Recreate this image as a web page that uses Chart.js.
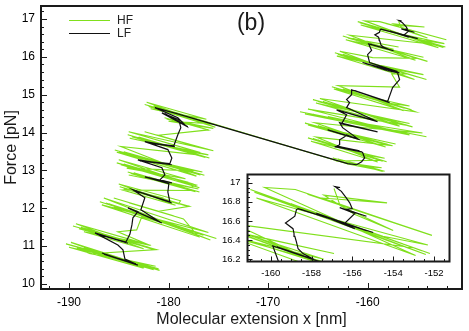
<!DOCTYPE html>
<html>
<head>
<meta charset="utf-8">
<script src="https://cdn.jsdelivr.net/npm/chart.js@4.4.1/dist/chart.umd.min.js"></script>
<style>
  html, body { margin: 0; padding: 0; background: #fff; }
  #wrap { position: relative; width: 469px; height: 331px; }
  #main { position: absolute; left: 0; top: 0; }
  #inset { position: absolute; left: 200px; top: 170px; }
</style>
</head>
<body>
<div id="wrap">
  <canvas id="main" width="469" height="331"></canvas>
  <canvas id="inset" width="255" height="115"></canvas>
</div>
<script>
// valeurs (extension en nm, force en pN)
const xTicks = [-190, -180, -170, -160];
const yTicks = [10, 11, 12, 13, 14, 15, 16, 17];
const insetXTicks = [-160, -158, -156, -154, -152];
const insetYTicks = [16.2, 16.4, 16.6, 16.8, 17];

const hfLower = [
  [-186.5, 10.78], [-181.0, 10.40], [-190.3, 11.06], [-182.0, 10.44], [-188.5, 10.96], [-180.9, 10.36],
  [-187.0, 10.84], [-183.0, 10.52], [-189.2, 10.95], [-181.5, 10.38], [-185.0, 10.70],
  [-189.8, 11.10], [-182.5, 10.42], [-190.0, 10.97], [-181.3, 10.47], [-187.8, 10.80],
  [-181.2, 10.91], [-189.6, 11.53], [-182.0, 10.97], [-188.8, 11.50], [-181.6, 10.92], [-187.5, 11.40],
  [-183.0, 11.03], [-189.0, 11.46], [-184.5, 11.17],
  [-181.8, 11.02], [-189.3, 11.59], [-182.5, 10.93], [-188.5, 11.38], [-182.2, 11.06],
  [-185.1, 11.38], [-183.2, 11.43], [-182.7, 11.77],
  [-178.0, 11.43], [-186.9, 12.17], [-175.2, 11.20], [-186.0, 12.12], [-177.5, 11.37], [-185.5, 12.03],
  [-180.0, 11.60], [-186.3, 12.14], [-176.5, 11.29], [-184.0, 11.95],
  [-175.8, 11.16], [-186.5, 12.27], [-176.0, 11.36], [-186.7, 12.09], [-177.0, 11.25],
  [-178.5, 11.72], [-185.5, 12.27], [-179.5, 11.80], [-184.0, 12.15], [-181.0, 11.92],
  [-177.9, 12.05], [-184.9, 12.57], [-178.5, 12.09], [-184.0, 12.53], [-178.2, 12.06], [-183.0, 12.43],
  [-180.5, 12.27], [-184.5, 12.52], [-179.0, 12.12],
  [-178.8, 12.20], [-185.0, 12.64], [-179.3, 12.08], [-184.6, 12.48],
  [-177.5, 12.47], [-184.1, 12.96], [-176.9, 12.43], [-183.5, 12.94], [-178.0, 12.49], [-182.0, 12.83],
  [-177.3, 12.44], [-183.8, 12.92],
  [-177.0, 12.51], [-184.0, 12.88], [-177.8, 12.55],
  [-177.2, 12.61], [-185.2, 13.20], [-177.5, 12.64], [-184.5, 13.17], [-179.0, 12.74], [-183.5, 13.06],
  [-178.0, 12.69], [-184.8, 13.15],
  [-176.9, 12.54], [-185.0, 13.28], [-178.3, 12.78], [-184.2, 13.06],
  [-178.0, 12.99], [-185.4, 13.54], [-176.4, 12.87], [-184.5, 13.49], [-177.5, 12.97], [-183.0, 13.36],
  [-176.8, 12.88], [-185.0, 13.49], [-179.5, 13.10],
  [-176.6, 12.96], [-185.2, 13.48], [-177.2, 12.85], [-184.8, 13.63],
  [-177.0, 13.41], [-184.1, 13.94], [-175.9, 13.33], [-183.0, 13.88], [-177.5, 13.45], [-182.0, 13.78],
  [-176.3, 13.34], [-183.7, 13.89], [-178.5, 13.52],
  [-176.0, 13.41], [-183.9, 13.85], [-176.8, 13.47], [-184.0, 14.02],
  [-175.5, 13.52], [-182.4, 14.02], [-176.5, 13.58], [-181.0, 13.93],
  [-176.0, 14.07], [-180.4, 14.39], [-175.9, 14.06], [-179.8, 14.37], [-176.8, 14.15], [-180.2, 14.36],
  [-175.5, 14.11], [-180.0, 14.30],
  [-175.5, 14.23], [-182.4, 14.74], [-175.1, 14.20], [-181.5, 14.70], [-176.0, 14.27], [-180.5, 14.62],
  [-175.8, 14.23], [-182.0, 14.69], [-175.3, 14.14], [-182.2, 14.80], [-176.2, 14.35], [-181.8, 14.63],
  [-177.8, 14.40], [-179.2, 14.52]
];

const hfUpper = [
  [-162.0, 13.17],
  [-158.3, 12.98], [-163.5, 13.33], [-158.8, 13.02], [-162.5, 13.26], [-158.5, 12.97], [-163.0, 13.30], [-160.0, 13.10],
  [-158.6, 13.07], [-163.2, 13.25],
  [-158.6, 13.27], [-166.0, 13.86], [-158.1, 13.23], [-165.0, 13.80], [-159.5, 13.34], [-164.0, 13.70],
  [-158.5, 13.24], [-165.5, 13.84], [-160.5, 13.42],
  [-158.3, 13.32], [-165.7, 13.77], [-159.0, 13.22], [-165.2, 13.88],
  [-157.5, 13.65], [-166.3, 14.25], [-158.0, 13.69], [-165.0, 14.18], [-158.5, 13.72], [-164.0, 14.09],
  [-157.8, 13.66], [-165.8, 14.20],
  [-157.2, 13.70], [-166.0, 14.20], [-158.2, 13.62], [-165.3, 14.26],
  [-157.0, 14.04], [-166.8, 14.55], [-154.1, 13.89], [-165.5, 14.48], [-156.5, 14.01], [-164.0, 14.42], [-158.0, 14.07],
  [-154.5, 13.99], [-166.3, 14.49], [-155.8, 13.94], [-166.0, 14.62],
  [-156.0, 14.19], [-165.5, 14.87], [-155.5, 14.15], [-164.5, 14.82], [-157.5, 14.29], [-163.0, 14.69],
  [-156.3, 14.20], [-165.0, 14.82], [-158.5, 14.37],
  [-155.8, 14.24], [-165.2, 14.78], [-156.8, 14.17], [-164.8, 14.90],
  [-155.2, 14.55],
  [-156.0, 14.63], [-163.6, 15.21], [-155.6, 14.60], [-162.5, 15.15], [-157.0, 14.71], [-161.5, 15.05],
  [-156.3, 14.64], [-163.2, 15.16], [-158.0, 14.78],
  [-155.8, 14.70], [-163.4, 15.15], [-156.4, 14.58], [-163.0, 15.24],
  [-156.8, 15.20], [-157.6, 15.55],
  [-156.0, 15.55], [-163.3, 16.11], [-154.1, 15.40], [-162.5, 16.07], [-155.0, 15.47], [-161.5, 15.97],
  [-156.5, 15.59], [-160.5, 15.89], [-154.6, 15.44], [-163.0, 16.06], [-158.0, 15.70],
  [-154.4, 15.53], [-163.1, 16.02], [-155.3, 15.40], [-162.8, 16.15],
  [-159.5, 15.98],
  [-155.0, 15.96], [-162.5, 16.55], [-154.0, 15.88], [-161.5, 16.49], [-155.5, 16.00], [-160.5, 16.39],
  [-157.0, 16.12], [-161.2, 16.40], [-157.4, 16.20], [-161.2, 16.46], [-156.9, 16.26], [-162.0, 16.50], [-158.5, 16.24],
  [-154.4, 15.99], [-162.2, 16.45], [-155.2, 15.91], [-161.8, 16.57],
  [-153.0, 16.32], [-161.0, 16.93], [-152.2, 16.26], [-160.5, 16.89], [-152.6, 16.29], [-160.0, 16.85],
  [-153.5, 16.36], [-159.0, 16.78], [-152.4, 16.25], [-160.8, 16.90], [-154.5, 16.44],
  [-152.3, 16.35], [-160.7, 16.84], [-152.9, 16.24], [-160.3, 16.95],
  [-158.8, 16.93], [-152.1, 16.45], [-158.2, 16.88], [-153.5, 16.55], [-157.5, 16.84], [-154.3, 16.79],
  [-157.4, 16.87], [-155.9, 16.67], [-154.0, 16.50], [-156.6, 16.76], [-156.9, 16.94]
];

const lfLower = [
  [-186.69, 10.82], [-183.08, 10.50], [-186.49, 10.79], [-183.28, 10.53], [-184.38, 10.66], [-184.58, 10.90],
  [-185.09, 11.03], [-187.39, 11.35], [-184.08, 11.08], [-187.19, 11.32], [-184.28, 11.11], [-183.88, 11.32],
  [-183.68, 11.56], [-183.58, 11.75], [-183.08, 11.91], [-184.08, 12.01], [-180.67, 11.61], [-183.88, 11.98],
  [-180.87, 11.64], [-182.78, 11.96], [-182.38, 12.28], [-183.58, 12.49], [-179.67, 12.14], [-183.28, 12.46],
  [-179.87, 12.17], [-180.07, 12.43], [-179.97, 12.65], [-182.38, 12.83], [-179.67, 12.67], [-180.87, 12.75],
  [-180.37, 12.88], [-180.67, 13.07], [-183.08, 13.28], [-179.67, 13.15], [-182.88, 13.25], [-179.87, 13.18],
  [-179.67, 13.33], [-180.07, 13.55], [-182.38, 13.76], [-179.37, 13.63], [-182.08, 13.73], [-179.47, 13.65],
  [-179.07, 13.94], [-178.77, 14.13], [-178.97, 14.34], [-180.67, 14.52], [-178.06, 14.15], [-180.37, 14.50],
  [-178.27, 14.18], [-179.07, 14.39], [-181.37, 14.66], [-179.17, 14.50]
];

const lfUpper = [
  [-162.02, 13.18], [-161.11, 13.15], [-160.61, 13.23], [-160.31, 13.33], [-160.51, 13.47], [-160.61, 13.49],
  [-163.32, 13.63], [-160.81, 13.52], [-163.10, 13.64], [-162.82, 13.68], [-162.82, 13.81], [-162.32, 13.89],
  [-162.12, 13.94], [-160.81, 13.81], [-164.02, 14.07], [-161.01, 13.84], [-162.52, 14.13], [-162.82, 14.26],
  [-159.01, 14.02], [-162.62, 14.23], [-162.12, 14.47], [-163.12, 14.60], [-159.01, 14.29], [-162.82, 14.58],
  [-159.21, 14.31], [-162.12, 14.66], [-161.82, 14.79], [-162.12, 14.87], [-161.62, 15.00], [-161.62, 15.13],
  [-157.80, 14.79], [-161.31, 15.11], [-158.00, 14.82], [-157.50, 15.19], [-156.80, 15.40], [-157.00, 15.58],
  [-158.10, 15.64], [-160.51, 15.85], [-156.80, 15.58], [-160.21, 15.82], [-157.00, 15.61], [-159.81, 15.85],
  [-160.01, 16.06], [-159.61, 16.17], [-159.90, 16.34], [-157.40, 16.16], [-159.70, 16.33], [-157.90, 16.20],
  [-158.42, 16.26], [-158.66, 16.31], [-158.74, 16.38], [-158.82, 16.44], [-158.86, 16.47], [-158.91, 16.52],
  [-159.28, 16.58], [-158.82, 16.65], [-158.74, 16.72], [-158.66, 16.73], [-154.98, 16.48], [-158.50, 16.72],
  [-155.30, 16.50], [-157.76, 16.68], [-155.88, 16.52], [-156.40, 16.57], [-155.88, 16.68], [-156.62, 16.74],
  [-155.31, 16.65], [-156.30, 16.72], [-156.01, 16.73], [-156.13, 16.79], [-156.29, 16.84], [-156.54, 16.91],
  [-156.86, 16.96], [-156.60, 16.95]
];

const hfColor = '#80e01c';
const lfColor = '#111111';
const fontFamily = '"Liberation Sans", Arial, sans-serif';

const toPoints = pts => pts.map(([x, y]) => ({ x, y }));
const hfData = toPoints(hfLower.concat(hfUpper));
const lfData = toPoints(lfLower.concat(lfUpper));

function makeDatasets() {
  return [
    { label: 'HF', data: hfData, borderColor: hfColor, borderWidth: 1.1, showLine: true, pointRadius: 0, order: 2 },
    { label: 'LF', data: lfData, borderColor: lfColor, borderWidth: 1.2, showLine: true, pointRadius: 0, order: 1 }
  ];
}

// ticks vers l'intérieur + cadre complet
const inwardTicks = {
  id: 'inwardTicks',
  beforeDraw(chart, args, o) {
    if (!o.fill) return;
    const a = chart.chartArea;
    chart.ctx.save();
    chart.ctx.fillStyle = '#fff';
    chart.ctx.fillRect(a.left, a.top, a.width, a.height);
    chart.ctx.restore();
  },
  afterDraw(chart, args, o) {
    const { ctx, chartArea: a, scales: { x, y } } = chart;
    const isMajor = (v, m) => Math.abs(v / m - Math.round(v / m)) < 1e-6;
    ctx.save();
    ctx.strokeStyle = '#1a1a1a';
    ctx.lineWidth = 1;
    ctx.beginPath();
    for (let i = Math.ceil(x.min / o.xStep - 1e-6); i <= Math.floor(x.max / o.xStep + 1e-6); i++) {
      const v = i * o.xStep;
      const px = Math.round(x.getPixelForValue(v)) + 0.5;
      ctx.moveTo(px, a.bottom);
      ctx.lineTo(px, a.bottom - (isMajor(v, o.xMajor) ? o.major : o.minor));
    }
    for (let i = Math.ceil(y.min / o.yStep - 1e-6); i <= Math.floor(y.max / o.yStep + 1e-6); i++) {
      const v = i * o.yStep;
      const py = Math.round(y.getPixelForValue(v)) + 0.5;
      ctx.moveTo(a.left, py);
      ctx.lineTo(a.left + (isMajor(v, o.yMajor) ? o.major : o.minor), py);
    }
    ctx.stroke();
    ctx.lineWidth = o.frame;
    ctx.strokeRect(a.left, a.top, a.right - a.left, a.bottom - a.top);
    ctx.restore();
  }
};

function linearAxis(min, max, ticks, size, pad, fit) {
  return {
    type: 'linear',
    min: min,
    max: max,
    grid: { display: false, drawTicks: false },
    border: { display: false },
    ticks: {
      color: '#000', padding: pad, autoSkip: false, maxRotation: 0,
      font: { family: fontFamily, size: size },
      callback: v => String(Math.round(v * 100) / 100)
    },
    afterBuildTicks: s => { s.ticks = ticks.map(v => ({ value: v })); },
    afterFit: s => {
      if (s.isHorizontal()) s.height = fit; else s.width = fit;
      s.paddingTop = 0; s.paddingBottom = 0; s.paddingLeft = 0; s.paddingRight = 0;
    }
  };
}

const decor = {
  id: 'decor',
  afterDraw(chart) {
    const ctx = chart.ctx;
    const a = chart.chartArea;
    ctx.save();
    ctx.fillStyle = '#1a1a1a';
    ctx.textAlign = 'center';
    ctx.textBaseline = 'middle';
    ctx.font = '16px ' + fontFamily;
    ctx.fillText('Molecular extension x [nm]', (a.left + a.right) / 2, 320);
    ctx.save();
    ctx.translate(11.5, (a.top + a.bottom) / 2);
    ctx.rotate(-Math.PI / 2);
    ctx.fillText('Force [pN]', 0, 0);
    ctx.restore();
    ctx.font = '23px ' + fontFamily;
    ctx.fillText('(b)', 251, 24);
    // légende
    ctx.textAlign = 'left';
    ctx.font = '12px ' + fontFamily;
    chart.data.datasets.forEach((ds, i) => {
      const ly = 20 + i * 13;
      ctx.strokeStyle = ds.borderColor;
      ctx.lineWidth = 1;
      ctx.beginPath();
      ctx.moveTo(69, ly + 0.5);
      ctx.lineTo(110, ly + 0.5);
      ctx.stroke();
      ctx.fillStyle = '#222';
      ctx.fillText(ds.label, 117, ly + 1);
    });
    ctx.restore();
  }
};

new Chart(document.getElementById('main'), {
  type: 'scatter',
  data: { datasets: makeDatasets() },
  options: {
    responsive: false,
    animation: false,
    layout: { padding: { left: 0, right: 7, top: 6, bottom: 0 } },
    plugins: {
      legend: { display: false },
      tooltip: { enabled: false },
      inwardTicks: { xStep: 2, xMajor: 10, yStep: 0.2, yMajor: 1, major: 6, minor: 3, frame: 2 }
    },
    scales: {
      x: linearAxis(-192.81, -150.53, xTicks, 12, 6, 42),
      y: linearAxis(9.868, 17.343, yTicks, 12, 6, 41)
    }
  },
  plugins: [inwardTicks, decor]
});

new Chart(document.getElementById('inset'), {
  type: 'scatter',
  data: { datasets: makeDatasets() },
  options: {
    responsive: false,
    animation: false,
    layout: { padding: { left: 0, right: 5.5, top: 4.5, bottom: 0 } },
    plugins: {
      legend: { display: false },
      tooltip: { enabled: false },
      inwardTicks: { fill: true, xStep: 0.5, xMajor: 2, yStep: 0.05, yMajor: 0.2, major: 5, minor: 2.5, frame: 2 }
    },
    scales: {
      x: linearAxis(-161.14, -151.24, insetXTicks, 9.5, 6, 23.5),
      y: linearAxis(16.177, 17.086, insetYTicks, 9.5, 7, 47.5)
    }
  },
  plugins: [inwardTicks]
});
</script>
</body>
</html>
